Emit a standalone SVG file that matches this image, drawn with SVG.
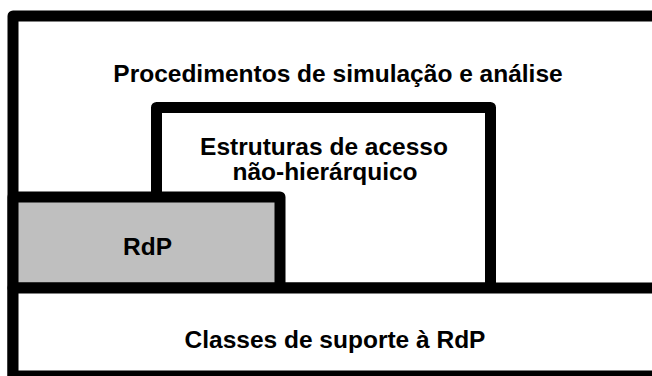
<svg xmlns="http://www.w3.org/2000/svg" width="652" height="376" viewBox="0 0 652 376">
<style>
.box{stroke:#000;stroke-width:11;stroke-linejoin:round}
.lbl{font-family:"Liberation Sans",Arial,Helvetica,sans-serif;font-weight:bold;font-size:24.5px;fill:#000;text-anchor:middle}
</style>
<rect width="652" height="376" fill="#fff"/>
<g id="procedimentos">
<rect class="box" x="13" y="16" width="660" height="360" fill="#fff"/>
<text class="lbl" x="338" y="82">Procedimentos de simulação e análise</text>
</g>
<g id="estruturas">
<rect class="box" x="156.5" y="107.5" width="334" height="180.5" fill="#fff"/>
<text class="lbl" x="324" y="155">Estruturas de acesso</text>
<text class="lbl" x="325" y="180">não-hierárquico</text>
</g>
<g id="rdp">
<rect class="box" x="13" y="197" width="267" height="91" fill="#bfbfbf"/>
<text class="lbl" x="147.5" y="255">RdP</text>
</g>
<g id="classes">
<rect class="box" x="13" y="288" width="660" height="88" fill="#fff"/>
<text class="lbl" x="335" y="348">Classes de suporte à RdP</text>
</g>
</svg>
